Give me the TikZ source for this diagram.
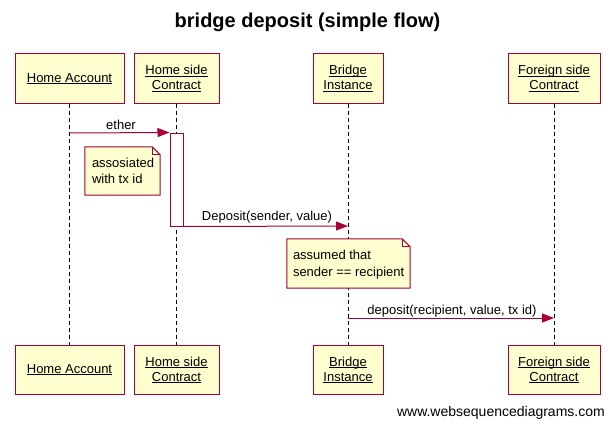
\documentclass[tikz,border=0pt]{standalone}
\usepackage{fontspec}
\setmainfont{Liberation Sans}
\usetikzlibrary{arrows.meta}
\definecolor{bordc}{HTML}{A80036}
\definecolor{fillc}{HTML}{FEFECE}
\tikzset{
  part/.style={draw=bordc, line width=1pt, fill=fillc, minimum height=49pt, inner sep=0pt, align=center, font=\fontsize{13}{15}\selectfont},
  life/.style={line width=1pt, dash pattern=on 4pt off 3pt, black},
  msg/.style={draw=bordc, line width=1pt, -{Triangle[length=12pt,width=9pt]}},
  mlabel/.style={font=\fontsize{13}{15}\selectfont, inner sep=0pt},
  notetext/.style={font=\fontsize{13}{16.5}\selectfont, align=left, inner sep=0pt, anchor=west},
  noteframe/.style={inner sep=0pt},
  notebox/.style={draw=bordc, line width=1pt, fill=fillc},
  actbox/.style={draw=bordc, line width=1pt, fill=white, minimum width=13pt, minimum height=93pt, inner sep=0pt},
}
\newcommand{\ul}[1]{\setbox0\hbox{#1}\rlap{\rule[-1.6pt]{\wd0}{0.8pt}}\box0}
\begin{document}
\begin{tikzpicture}[x=1pt,y=-1pt]
\useasboundingbox (0,0) rectangle (615,428);
\node[font=\bfseries\fontsize{20}{24}\selectfont] (title) at (307.5,22) {bridge deposit (simple flow)};
\node[part, minimum width=109pt] (ha) at (69.5,78.5) {\ul{Home Account}};
\node[part, minimum width=85pt] (hc) at (176.5,78.5) {\ul{Home side}\\\ul{Contract}};
\node[part, minimum width=70pt] (bi) at (348,78.5) {\ul{Bridge}\\\ul{Instance}};
\node[part, minimum width=92pt] (fc) at (554,78.5) {\ul{Foreign side}\\\ul{Contract}};
\node[part, minimum width=109pt] (ha2) at (69.5,370) {\ul{Home Account}};
\node[part, minimum width=85pt] (hc2) at (176.5,370) {\ul{Home side}\\\ul{Contract}};
\node[part, minimum width=70pt] (bi2) at (348,370) {\ul{Bridge}\\\ul{Instance}};
\node[part, minimum width=92pt] (fc2) at (554,370) {\ul{Foreign side}\\\ul{Contract}};
\draw[life] (ha.south) -- (ha2.north);
\draw[life] (hc.south) -- (hc2.north);
\draw[life] (bi.south) -- (bi2.north);
\draw[life] (fc.south) -- (fc2.north);
% activation
\node[actbox] (act) at (176.5,179.5) {};
% message 1
\coordinate (m1s) at (69.5,133);
\draw[msg] (m1s) -- (act.north west);
\node[mlabel] (m1l) at (121,125) {ether};
% note 1
\node[noteframe, minimum width=75pt, minimum height=48pt] (n1box) at (122.5,171) {};
\draw[notebox] (n1box.north west) -- ([xshift=-8pt]n1box.north east) -- ([yshift=-8pt]n1box.north east) -- (n1box.south east) -- (n1box.south west) -- cycle;
\draw[bordc, line width=1pt] ([xshift=-8pt]n1box.north east) |- ([yshift=-8pt]n1box.north east);
\node[notetext] (n1) at ([xshift=7pt]n1box.west) {assosiated\\with tx id};
% message 2
\coordinate (m2e) at (348,226);
\draw[msg] (act.south east) -- (m2e);
\node[mlabel] (m2l) at (267,217) {Deposit(sender, value)};
% note 2
\node[noteframe, minimum width=123pt, minimum height=49pt] (n2box) at (348.5,263.5) {};
\draw[notebox] (n2box.north west) -- ([xshift=-8pt]n2box.north east) -- ([yshift=-8pt]n2box.north east) -- (n2box.south east) -- (n2box.south west) -- cycle;
\draw[bordc, line width=1pt] ([xshift=-8pt]n2box.north east) |- ([yshift=-8pt]n2box.north east);
\node[notetext] (n2) at ([xshift=6pt,yshift=-1pt]n2box.west) {assumed that\\sender == recipient};
% message 3
\coordinate (m3s) at (348,318);
\coordinate (m3e) at (554,318);
\draw[msg] (m3s) -- (m3e);
\node[mlabel] (m3l) at (452,311) {deposit(recipient, value, tx id)};
% footer
\node[font=\fontsize{14}{16}\selectfont, anchor=east, inner sep=0pt] (foot) at (605,413) {www.websequencediagrams.com};
\end{tikzpicture}
\end{document}
